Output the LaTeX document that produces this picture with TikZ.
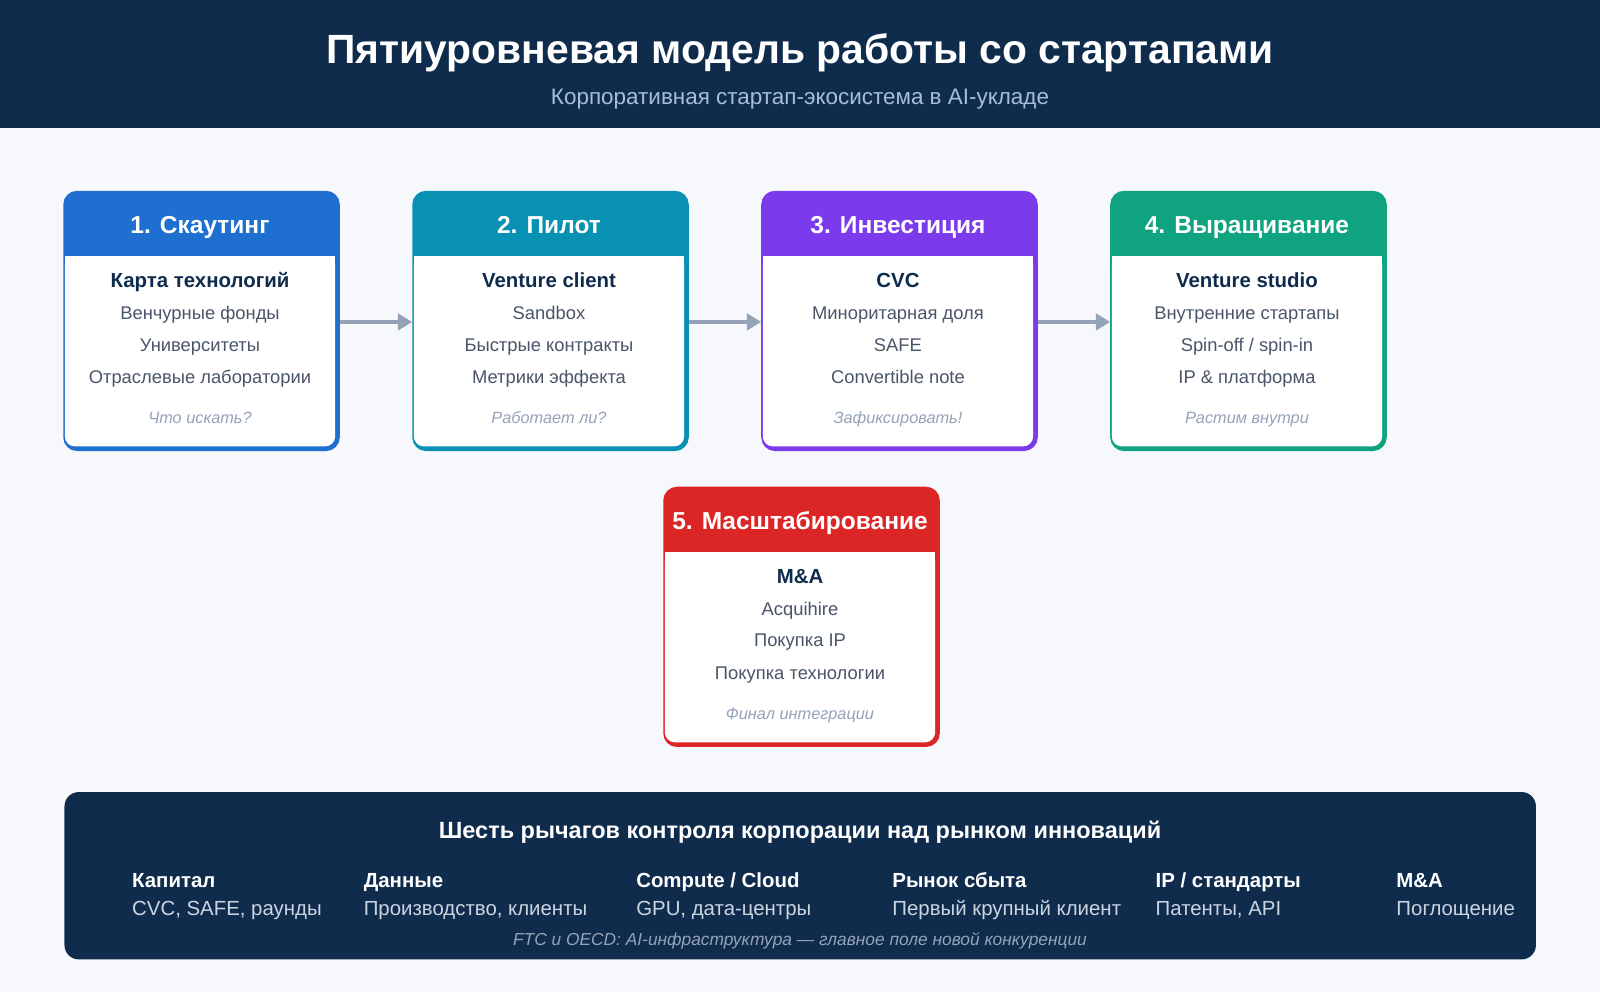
\documentclass[tikz,border=0pt]{standalone}
\usepackage{fontspec}
\setmainfont{Liberation Sans}
\usetikzlibrary{arrows.meta}
\definecolor{navy}{HTML}{0F2C4D}
\definecolor{bg}{HTML}{F6F8FB}
\definecolor{subc}{HTML}{A6BEDC}
\definecolor{cblue}{HTML}{1E6FD0}
\definecolor{cteal}{HTML}{0891B2}
\definecolor{cpurple}{HTML}{7C3AED}
\definecolor{cgreen}{HTML}{10A37F}
\definecolor{cred}{HTML}{DC2626}
\definecolor{txt}{HTML}{4A5568}
\definecolor{muted}{HTML}{94A3B8}
\definecolor{light}{HTML}{CBD5E1}
\tikzset{
 boxttl/.style={anchor=base,text=white,font=\bfseries\fontsize{24}{28}\selectfont},
 boxbold/.style={anchor=base,text=navy,font=\bfseries\fontsize{20}{24}\selectfont},
 boxline/.style={anchor=base,text=txt,font=\fontsize{18}{22}\selectfont},
 boxital/.style={anchor=base,text=muted,font=\itshape\fontsize{16}{20}\selectfont},
 flow/.style={draw=muted,line width=4pt,-{Triangle[length=14pt,width=16pt]}},
 colhead/.style={anchor=base west,text=white,font=\bfseries\fontsize{20}{24}\selectfont},
 colval/.style={anchor=base west,text=light,font=\fontsize{20}{24}\selectfont},
}
% name, x-left, y-top, color, title, bold, l1,l2,l3
\newcommand\stagebox[9]{%
 \node[draw=#4,line width=3pt,fill=#4,rounded corners=12pt,minimum width=268pt,minimum height=252pt,anchor=north west,inner sep=0pt] (#1) at (#2,#3) {};
 \fill[white,rounded corners=10pt] (#2+1.5,#3+64) -- (#2+266.5,#3+64) -- (#2+266.5,#3+250.5) -- (#2+1.5,#3+250.5) -- cycle;
 \fill[white] (#2+1.5,#3+64) rectangle (#2+266.5,#3+80);
 \node[boxttl] (#1t) at (#2+134,#3+42) {#5};
 \node[boxbold] (#1b) at (#2+134,#3+95) {#6};
 \node[boxline] (#1a) at (#2+134,#3+126) {#7};
 \node[boxline] (#1c) at (#2+134,#3+157) {#8};
 \node[boxline] (#1d) at (#2+134,#3+189) {#9};
}
\begin{document}
\begin{tikzpicture}[x=1pt,y=-1pt]
\fill[bg] (0,0) rectangle (1568,972);
\useasboundingbox (0,0) rectangle (1568,972);
\fill[navy] (0,0) rectangle (1568,125);
\node[anchor=base,text=white,font=\bfseries\fontsize{40}{46}\selectfont] (title) at (784,62) {Пятиуровневая модель работы со стартапами};
\node[anchor=base,text=subc,font=\fontsize{22}{26}\selectfont] (sub) at (784,102) {Корпоративная стартап-экосистема в AI-укладе};

\stagebox{s1}{62}{187}{cblue}{1. Скаутинг}{Карта технологий}{Венчурные фонды}{Университеты}{Отраслевые лаборатории}
\node[boxital] (s1i) at (196,415) {Что искать?};
\stagebox{s2}{404}{187}{cteal}{2. Пилот}{Venture client}{Sandbox}{Быстрые контракты}{Метрики эффекта}
\node[boxital] (s2i) at (538,415) {Работает ли?};
\stagebox{s3}{746}{187}{cpurple}{3. Инвестиция}{CVC}{Миноритарная доля}{SAFE}{Convertible note}
\node[boxital] (s3i) at (880,415) {Зафиксировать!};
\stagebox{s4}{1088}{187}{cgreen}{4. Выращивание}{Venture studio}{Внутренние стартапы}{Spin-off / spin-in}{IP \& платформа}
\node[boxital] (s4i) at (1222,415) {Растим внутри};
\stagebox{s5}{650}{477}{cred}{5. Масштабирование}{M\&A}{Acquihire}{Покупка IP}{Покупка технологии}
\node[boxital] (s5i) at (784,705) {Финал интеграции};

\draw[flow] ([yshift=-1pt]s1.east) -- ([yshift=-1pt]s2.west);
\draw[flow] ([yshift=-1pt]s2.east) -- ([yshift=-1pt]s3.west);
\draw[flow] ([yshift=-1pt]s3.east) -- ([yshift=-1pt]s4.west);

\node[fill=navy,rounded corners=14pt,minimum width=1442pt,minimum height=164pt,anchor=north west,inner sep=0pt] (panel) at (63,776) {};
\node[anchor=base,text=white,font=\bfseries\fontsize{23}{27}\selectfont] (ptitle) at (784,822) {Шесть рычагов контроля корпорации над рынком инноваций};
\node[colhead] (h1) at (126,870) {Капитал};
\node[colval] (v1) at (126,897) {CVC, SAFE, раунды};
\node[colhead] (h2) at (353,870) {Данные};
\node[colval] (v2) at (353,897) {Производство, клиенты};
\node[colhead] (h3) at (620,870) {Compute / Cloud};
\node[colval] (v3) at (620,897) {GPU, дата-центры};
\node[colhead] (h4) at (871,870) {Рынок сбыта};
\node[colval] (v4) at (871,897) {Первый крупный клиент};
\node[colhead] (h5) at (1129,870) {IP / стандарты};
\node[colval] (v5) at (1129,897) {Патенты, API};
\node[colhead] (h6) at (1365,870) {M\&A};
\node[colval] (v6) at (1365,897) {Поглощение};
\node[anchor=base,text=muted,font=\itshape\fontsize{17}{20}\selectfont] (foot) at (784,927) {FTC и OECD: AI-инфраструктура — главное поле новой конкуренции};
\end{tikzpicture}
\end{document}
